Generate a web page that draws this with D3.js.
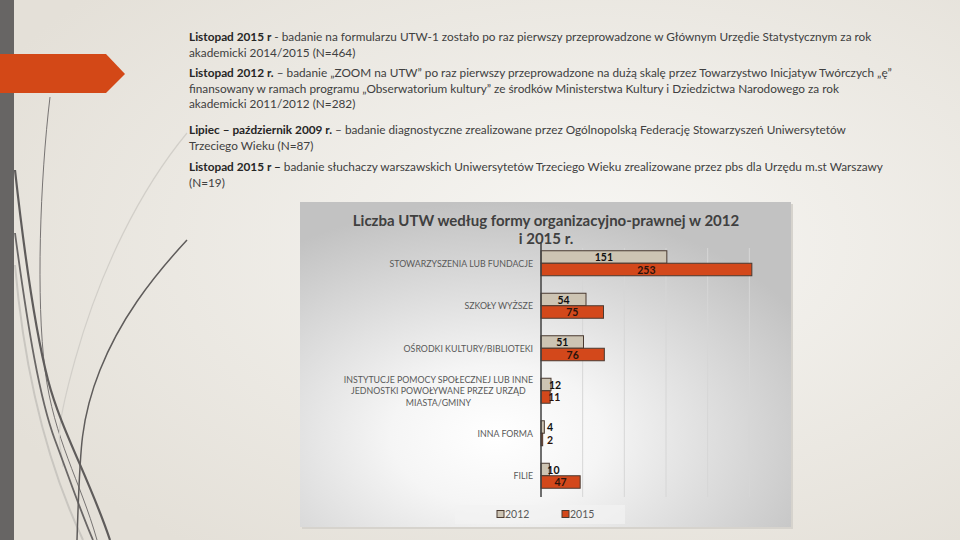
<!DOCTYPE html>
<html>
<head>
<meta charset="utf-8">
<script src="https://cdn.jsdelivr.net/npm/d3@7"></script>
<style>
  body { margin: 0; padding: 0; overflow: hidden; }
  svg { display: block; }
</style>
</head>
<body>
<div id="slide"></div>
<script>
// chart data
const categories = [
  ["STOWARZYSZENIA LUB FUNDACJE"],
  ["SZKOŁY WYŻSZE"],
  ["OŚRODKI KULTURY/BIBLIOTEKI"],
  ["INSTYTUCJE POMOCY SPOŁECZNEJ LUB INNE", "JEDNOSTKI POWOŁYWANE PRZEZ URZĄD", "MIASTA/GMINY"],
  ["INNA FORMA"],
  ["FILIE"]
];
const years = ["2012", "2015"];
const values2012 = [151, 54, 51, 12, 4, 10];
const values2015 = [253, 75, 76, 11, 2, 47];
const gridTicks = [50, 100, 150, 200, 250];
const chartTitle = ["Liczba UTW według formy organizacyjno-prawnej w 2012", "i 2015 r."];

// slide text: [bold part, normal part] per line
const notes = [
  [["Listopad 2015 r", " - badanie na formularzu UTW-1 zostało po raz pierwszy przeprowadzone w Głównym Urzędie Statystycznym za rok"],
   ["", "akademicki 2014/2015 (N=464)"]],
  [["Listopad 2012 r.", " – badanie „ZOOM na UTW” po raz pierwszy przeprowadzone na dużą skalę przez Towarzystwo Inicjatyw Twórczych „ę”"],
   ["", "finansowany w ramach programu „Obserwatorium kultury” ze środków Ministerstwa Kultury i Dziedzictwa Narodowego za rok"],
   ["", "akademicki 2011/2012 (N=282)"]],
  [["Lipiec – październik 2009 r.", " – badanie diagnostyczne zrealizowane przez Ogólnopolską Federację Stowarzyszeń Uniwersytetów"],
   ["", "Trzeciego Wieku (N=87)"]],
  [["Listopad 2015 r –", " badanie słuchaczy warszawskich Uniwersytetów Trzeciego Wieku zrealizowane przez pbs dla Urzędu m.st Warszawy"],
   ["", "(N=19)"]]
];

const W = 960, H = 540;
const bodyFont = "'Lato', 'DejaVu Sans', sans-serif";
const colors = { "2012": "#cdc4b3", "2015": "#d3481b" };

const svg = d3.select("#slide").append("svg").attr("width", W).attr("height", H);
const defs = svg.append("defs");

// slide background
const bg = defs.append("radialGradient").attr("id", "bg").attr("cx", "62%").attr("cy", "45%").attr("r", "70%");
bg.append("stop").attr("offset", "0%").attr("stop-color", "#f7f6f3");
bg.append("stop").attr("offset", "100%").attr("stop-color", "#e4e0d8");
svg.append("rect").attr("width", W).attr("height", H).attr("fill", "url(#bg)");

// decorative curves
const curves = [
  { d: "M50,97 C40,180 36,300 45,370 S80,480 97,540", c: "#6a6766", w: 0.9 },
  { d: "M15,265 C25,380 50,470 83,540", c: "#c9c6c0", w: 2 },
  { d: "M187,133 C140,190 100,270 75,360 S62,440 63,467", c: "#d2cfc9", w: 1.2 },
  { d: "M15,170 C25,260 35,330 48,380 S90,480 110,540", c: "#5f5c5b", w: 2.2 },
  { d: "M15,233 C28,330 40,400 55,440 S80,510 93,540", c: "#6a6766", w: 1.8 },
  { d: "M187,240 C150,280 120,320 100,370 S80,450 77,540", c: "#5f5c5b", w: 1.5 }
];
svg.append("g").selectAll("path").data(curves).join("path")
  .attr("d", d => d.d).attr("fill", "none")
  .attr("stroke", d => d.c).attr("stroke-width", d => d.w);

// left strip and arrow
svg.append("rect").attr("x", 0).attr("y", 0).attr("width", 14).attr("height", H).attr("fill", "#676564");
svg.append("path").attr("d", "M0,54 L106,54 L125,74 L106,93 L0,93 Z").attr("fill", "#d34817");

// notes text
const lineGap = 15.5, blockTops = [37, 73, 130, 167];
const noteG = svg.append("g").style("font-family", bodyFont).style("font-size", "11.8px").attr("fill", "#404040");
notes.forEach((block, bi) => {
  block.forEach((ln, li) => {
    const t = noteG.append("text").attr("x", 189).attr("y", blockTops[bi] + li * lineGap + 4);
    if (ln[0]) t.append("tspan").attr("font-weight", "bold").attr("fill", "#262626").text(ln[0]);
    t.append("tspan").text(ln[1]);
  });
});

// chart panel
const panel = { x: 300, y: 202, w: 491, h: 325 };
const pg = defs.append("radialGradient").attr("id", "panelbg").attr("cx", "40%").attr("cy", "72%").attr("r", "72%");
pg.append("stop").attr("offset", "0%").attr("stop-color", "#ffffff");
pg.append("stop").attr("offset", "30%").attr("stop-color", "#f5f5f5");
pg.append("stop").attr("offset", "100%").attr("stop-color", "#c2c2c2");
svg.append("rect").attr("x", panel.x + 2).attr("y", panel.y + 2).attr("width", panel.w).attr("height", panel.h)
  .attr("fill", "#d6d3cd");
svg.append("rect").attr("x", panel.x).attr("y", panel.y).attr("width", panel.w).attr("height", panel.h)
  .attr("fill", "url(#panelbg)");

const titleG = svg.append("g").style("font-family", bodyFont).style("font-size", "15px")
  .attr("font-weight", "bold").attr("fill", "#404040").attr("text-anchor", "middle");
chartTitle.forEach((t, i) => titleG.append("text").attr("x", 546).attr("y", 226 + i * 17.5).text(t));

// scales
const x = d3.scaleLinear().domain([0, 300]).range([541, 791]);
const y = d3.scaleBand().domain(d3.range(categories.length)).range([242, 497]);
const inner = d3.scaleBand().domain(years).range([0, 25]);
const off = (y.bandwidth() - inner.range()[1]) / 2;

// gridlines
svg.append("g").selectAll("line").data(gridTicks).join("line")
  .attr("x1", d => x(d)).attr("x2", d => x(d)).attr("y1", 248).attr("y2", 497)
  .attr("stroke", "#d6d6d6").attr("stroke-width", 1);

// bars
const series = years.map((yr, i) => ({ yr, vals: i === 0 ? values2012 : values2015 }));
const barG = svg.append("g");
const fitsInside = d => (x(d) - x(0)) > 25;
series.forEach(s => {
  const g = barG.append("g");
  g.selectAll("rect").data(s.vals).join("rect")
    .attr("x", x(0)).attr("y", (d, i) => y(i) + off + inner(s.yr))
    .attr("width", d => x(d) - x(0)).attr("height", inner.bandwidth())
    .attr("fill", colors[s.yr]).attr("stroke", "#4a3a30").attr("stroke-width", 1);
  g.selectAll("text").data(s.vals).join("text")
    .attr("x", d => fitsInside(d) ? (x(0) + x(d)) / 2 : Math.max(x(0) + 6, x(d) - 2))
    .attr("y", (d, i) => y(i) + off + inner(s.yr) + inner.bandwidth() / 2 + 4)
    .attr("text-anchor", d => fitsInside(d) ? "middle" : "start")
    .style("font-family", bodyFont).style("font-size", "10.5px").attr("font-weight", "bold")
    .attr("fill", s.yr === "2015" ? "#2a130c" : "#111111")
    .text(d => d);
});

// axis line
svg.append("line").attr("x1", x(0)).attr("x2", x(0)).attr("y1", 242).attr("y2", 497)
  .attr("stroke", "#404040").attr("stroke-width", 1.5);

// category labels
const labG = svg.append("g").style("font-family", bodyFont).style("font-size", "8.8px").attr("fill", "#595959");
categories.forEach((lines, i) => {
  const cy = y(i) + y.bandwidth() / 2;
  const t = labG.append("text").attr("text-anchor", "middle");
  const spans = lines.map((l, j) => t.append("tspan").attr("y", cy + 3.5 + (j - (lines.length - 1) / 2) * 11.5).text(l));
  const maxW = d3.max(spans, s => s.node().getComputedTextLength());
  spans.forEach(s => s.attr("x", 533 - maxW / 2));
});

// legend
svg.append("rect").attr("x", 455).attr("y", 505).attr("width", 170).attr("height", 19).attr("fill", "#f2f2f2").attr("opacity", 0.7);
const leg = svg.append("g").selectAll("g").data(years).join("g")
  .attr("transform", (d, i) => `translate(${497 + i * 65},514)`);
leg.append("rect").attr("x", 0).attr("y", -3.5).attr("width", 7).attr("height", 7)
  .attr("fill", d => colors[d]).attr("stroke", "#4a3a30").attr("stroke-width", 1);
leg.append("text").attr("x", 8).attr("y", 4).style("font-family", bodyFont).style("font-size", "10.5px")
  .attr("fill", "#595959").text(d => d);
</script>
</body>
</html>
